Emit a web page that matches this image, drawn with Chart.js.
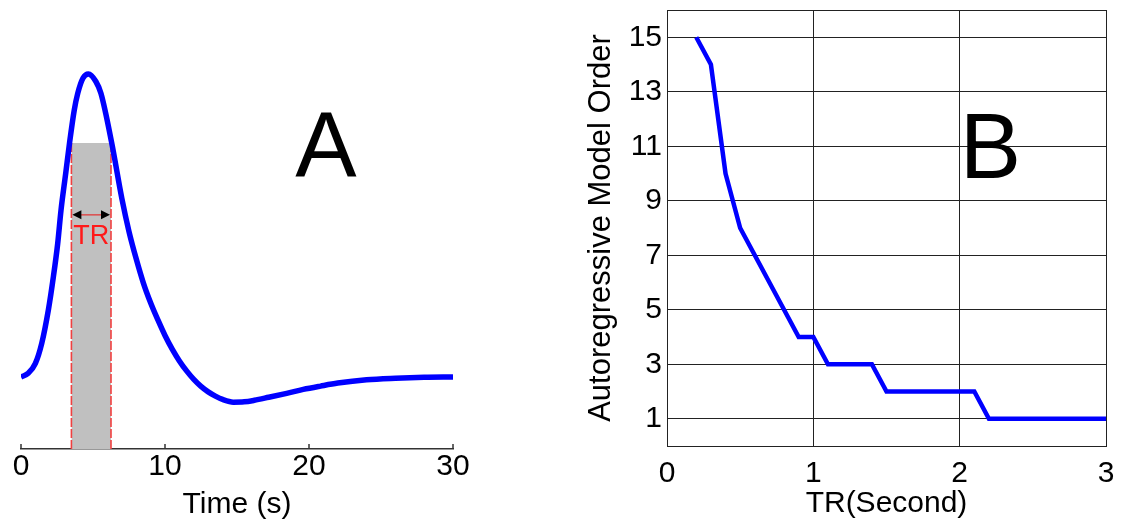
<!DOCTYPE html>
<html><head><meta charset="utf-8">
<script src="https://cdn.jsdelivr.net/npm/chart.js@4.4.1/dist/chart.umd.min.js"></script>
<style>
html,body{margin:0;padding:0;background:#fff;width:1123px;height:525px;overflow:hidden}
#ca{position:absolute;left:0;top:0}
#cb{position:absolute;left:580px;top:0}
</style></head><body>
<canvas id="ca" width="480" height="525"></canvas>
<canvas id="cb" width="543" height="525"></canvas>
<script>
// ---- Panel A: haemodynamic response (peak = 1) ----
const hrfTime  = [0, 0.5, 1.0, 1.44, 1.9, 2.25, 2.55, 2.78, 3.1, 3.37, 3.7, 3.94, 4.3, 4.68, 5.2, 5.55, 6.3, 7.0, 7.5, 8.0, 8.5, 9.0, 9.5, 10.0, 10.5, 11.0, 11.5, 12.0, 12.5, 13.0, 13.5, 14.0, 14.74, 15.5, 16.2, 17.2, 18.45, 19.6, 20.8, 22.0, 24.0, 26.0, 28.0, 30];
const hrfValue = [0, 0.012, 0.045, 0.111, 0.221, 0.331, 0.441, 0.551, 0.67, 0.772, 0.881, 0.936, 0.986, 1.0, 0.975, 0.936, 0.772, 0.59, 0.48, 0.39, 0.31, 0.245, 0.189, 0.137, 0.092, 0.053, 0.02, -0.008, -0.031, -0.049, -0.063, -0.074, -0.083, -0.082, -0.077, -0.067, -0.054, -0.041, -0.03, -0.02, -0.009, -0.004, -0.001, 0];
const timeTicks = [0, 10, 20, 30];
const trWindow = [3.5, 6.25];   // start / end of the shaded TR window (s)
const trTop = 0.772;            // height of the shaded window
const trArrowLevel = 0.535;     // level of the double arrow
const panelALetter = 'A';
const panelBLetter = 'B';

// ---- Panel B: autoregressive model order vs TR ----
const trSeconds  = [0.2, 0.3, 0.4, 0.5, 0.6, 0.7, 0.8, 0.9, 1.0, 1.1, 1.2, 1.3, 1.4, 1.5, 1.6, 1.7, 1.8, 1.9, 2.0, 2.1, 2.2, 2.3, 2.4, 2.5, 2.6, 2.7, 2.8, 2.9, 3.0];
const modelOrder = [15, 14, 10, 8, 7, 6, 5, 4, 4, 3, 3, 3, 3, 2, 2, 2, 2, 2, 2, 2, 1, 1, 1, 1, 1, 1, 1, 1, 1];
const orderTicks = [1, 3, 5, 7, 9, 11, 13, 15];
const trTicks = [0, 1, 2, 3];

const FONT = "'Liberation Sans', Arial, sans-serif";
Chart.defaults.font.family = FONT;
Chart.defaults.color = '#000';

const yMinA = -0.2376, yMaxA = 1.046;

const innerTicks = {
  id: 'innerTicks',
  afterDraw(chart) {
    const {ctx, chartArea, scales: {x}} = chart;
    ctx.save();
    ctx.strokeStyle = '#333'; ctx.lineWidth = 1.5;
    x.ticks.forEach(t => {
      const px = x.getPixelForValue(t.value);
      ctx.beginPath(); ctx.moveTo(px, chartArea.bottom); ctx.lineTo(px, chartArea.bottom - 5); ctx.stroke();
    });
    ctx.restore();
  }
};

const trMarks = {
  id: 'trMarks',
  afterDatasetsDraw(chart) {
    const {ctx, scales: {x, y}} = chart;
    const x1 = x.getPixelForValue(trWindow[0]), x2 = x.getPixelForValue(trWindow[1]);
    const ay = y.getPixelForValue(trArrowLevel);
    ctx.save();
    ctx.strokeStyle = '#e03a3a'; ctx.lineWidth = 1.3;
    ctx.beginPath(); ctx.moveTo(x1 + 7, ay); ctx.lineTo(x2 - 7, ay); ctx.stroke();
    ctx.fillStyle = '#000';
    ctx.beginPath(); ctx.moveTo(x1 + 1, ay); ctx.lineTo(x1 + 10, ay - 4.5); ctx.lineTo(x1 + 10, ay + 4.5); ctx.closePath(); ctx.fill();
    ctx.beginPath(); ctx.moveTo(x2 - 1, ay); ctx.lineTo(x2 - 10, ay - 4.5); ctx.lineTo(x2 - 10, ay + 4.5); ctx.closePath(); ctx.fill();
    ctx.fillStyle = '#ff1a1a';
    ctx.font = "27px " + FONT;
    ctx.textAlign = 'center'; ctx.textBaseline = 'middle';
    ctx.fillText('TR', (x1 + x2) / 2, ay + 22);
    // panel letter
    ctx.fillStyle = '#000';
    ctx.font = "92px " + FONT;
    ctx.fillText(panelALetter, x.getPixelForValue(21.18), y.getPixelForValue(0.745));
    ctx.restore();
  }
};

new Chart(document.getElementById('ca'), {
  type: 'line',
  data: {
    datasets: [
      { data: hrfTime.map((t, i) => ({x: t, y: hrfValue[i]})), borderColor: '#0000ff', borderWidth: 5.5,
        pointRadius: 0, cubicInterpolationMode: 'monotone', fill: false, order: 0 },
      { data: [{x: trWindow[0], y: trTop}, {x: trWindow[1], y: trTop}], borderWidth: 0, borderColor: 'rgba(0,0,0,0)',
        backgroundColor: '#c0c0c0', pointRadius: 0, fill: 'start', order: 3 },
      { data: [{x: trWindow[0], y: trTop}, {x: trWindow[0], y: yMinA}], borderColor: '#f04040', borderWidth: 1.6,
        borderDash: [9, 2], pointRadius: 0, fill: false, order: 1 },
      { data: [{x: trWindow[1], y: trTop}, {x: trWindow[1], y: yMinA}], borderColor: '#f04040', borderWidth: 1.6,
        borderDash: [9, 2], pointRadius: 0, fill: false, order: 1 }
    ]
  },
  options: {
    responsive: false, animation: false,
    layout: {padding: {top: 60, left: 21, right: 27, bottom: 0}},
    plugins: {legend: {display: false}, tooltip: {enabled: false}},
    scales: {
      x: {
        type: 'linear', min: 0, max: 30,
        afterBuildTicks: s => { s.ticks = timeTicks.map(v => ({value: v})); },
        afterFit: s => { s.height = 76; s.paddingLeft = 0; s.paddingRight = 0; },
        ticks: {font: {size: 30}, color: '#000', padding: 0, maxRotation: 0},
        grid: {drawOnChartArea: false, drawTicks: false},
        border: {color: '#333', width: 1.5},
        title: {display: true, text: 'Time (s)', font: {size: 30}, color: '#000', padding: {top: 0, bottom: 2}}
      },
      y: {display: false, min: yMinA, max: yMaxA}
    }
  },
  plugins: [innerTicks, trMarks]
});

const boxB = {
  id: 'boxB',
  afterDraw(chart) {
    const {ctx, chartArea: a} = chart;
    ctx.save();
    ctx.strokeStyle = '#222'; ctx.lineWidth = 1;
    ctx.strokeRect(a.left + 0.5, a.top + 0.5, a.right - a.left, a.bottom - a.top);
    ctx.restore();
  },
  afterDatasetsDraw(chart) {
    const {ctx, scales: {x, y}} = chart;
    ctx.save();
    ctx.fillStyle = '#000';
    ctx.font = "92px " + FONT;
    ctx.textAlign = 'center'; ctx.textBaseline = 'middle';
    ctx.fillText(panelBLetter, x.getPixelForValue(2.21), y.getPixelForValue(10.75));
    ctx.restore();
  }
};

new Chart(document.getElementById('cb'), {
  type: 'line',
  data: {
    datasets: [
      { data: trSeconds.map((t, i) => ({x: t, y: modelOrder[i]})), borderColor: '#0000ff', borderWidth: 4.5,
        pointRadius: 0, tension: 0, fill: false, borderJoinStyle: 'miter' }
    ]
  },
  options: {
    responsive: false, animation: false,
    layout: {padding: {top: 10, left: 0, right: 17, bottom: 0}},
    plugins: {legend: {display: false}, tooltip: {enabled: false}},
    scales: {
      x: {
        type: 'linear', min: 0, max: 3,
        afterBuildTicks: s => { s.ticks = trTicks.map(v => ({value: v})); },
        afterFit: s => { s.height = 79; s.paddingLeft = 0; s.paddingRight = 0; },
        ticks: {font: {size: 30}, color: '#000', padding: 10, maxRotation: 0},
        grid: {color: '#222', lineWidth: 1, drawTicks: false},
        border: {color: '#222', width: 1},
        title: {display: true, text: 'TR(Second)', font: {size: 30}, color: '#000', padding: {top: 0, bottom: 3}}
      },
      y: {
        type: 'linear', min: 0, max: 16,
        afterBuildTicks: s => { s.ticks = orderTicks.map(v => ({value: v})); },
        afterFit: s => { s.width = 87; s.paddingTop = 0; s.paddingBottom = 0; },
        ticks: {font: {size: 30}, color: '#000', padding: 5},
        grid: {color: '#222', lineWidth: 1, drawTicks: false},
        border: {color: '#222', width: 1},
        title: {display: true, text: 'Autoregressive Model Order', font: {size: 31}, color: '#000', padding: {top: 3, bottom: 0}}
      }
    }
  },
  plugins: [boxB]
});
</script>
</body></html>
